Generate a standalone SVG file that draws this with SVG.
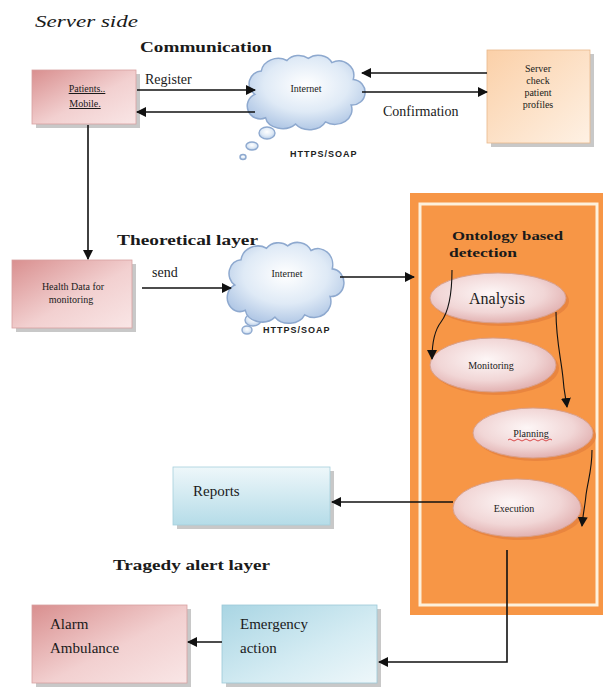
<svg xmlns="http://www.w3.org/2000/svg" width="604" height="688" viewBox="0 0 604 688" font-family="'Liberation Serif', 'DejaVu Serif', serif">
<defs>
<style>
text{font-family:'Liberation Serif','DejaVu Serif',serif}
.serif{fill:#1a1a1a}
.bold{font-weight:bold}
.small{font-size:10px}
.mid{font-size:14px}
.big{font-size:15px}
text.soap{font-family:'Liberation Sans',Arial,sans-serif;font-size:9px;font-weight:bold;letter-spacing:1px;fill:#222}
.conn{stroke:#111;stroke-width:1.6;fill:none}
.thin{stroke:#111;stroke-width:1.1;fill:none}
.shadow{fill:#9a9a9a;opacity:0.55}
.cloud{fill:url(#gCloud);stroke:#8ea9cf;stroke-width:1.4}
.ell{fill:url(#gEll);stroke:#d9a08a;stroke-width:1}
</style>
<linearGradient id="gPink" x1="0" y1="0" x2="1" y2="1">
<stop offset="0" stop-color="#d98f8f"/><stop offset="0.55" stop-color="#f2d0d0"/><stop offset="1" stop-color="#f9e6e6"/>
</linearGradient>
<linearGradient id="gBlue" x1="0" y1="0" x2="1" y2="1">
<stop offset="0" stop-color="#a9d5e3"/><stop offset="0.6" stop-color="#d5ecf3"/><stop offset="1" stop-color="#eef7fa"/>
</linearGradient>
<linearGradient id="gBlueV" x1="0" y1="0" x2="0" y2="1">
<stop offset="0" stop-color="#eef7fa"/><stop offset="1" stop-color="#b5dce8"/>
</linearGradient>
<linearGradient id="gPeach" x1="0" y1="0" x2="1" y2="1">
<stop offset="0" stop-color="#fbd0a8"/><stop offset="1" stop-color="#fef1e4"/>
</linearGradient>
<radialGradient id="gCloud" cx="0.5" cy="0.4" r="0.6">
<stop offset="0" stop-color="#ffffff"/><stop offset="0.6" stop-color="#dfeaf6"/><stop offset="1" stop-color="#b3c9e6"/>
</radialGradient>
<radialGradient id="gEll" cx="0.45" cy="0.4" r="0.6">
<stop offset="0" stop-color="#fdf6f6"/><stop offset="0.65" stop-color="#f1d6d6"/><stop offset="1" stop-color="#e2b2b2"/>
</radialGradient>
<marker id="arrL" viewBox="0 0 10 10" refX="9" refY="5" markerWidth="10" markerHeight="10" markerUnits="userSpaceOnUse" orient="auto">
<path d="M0,0 L10,5 L0,10 Z" fill="#111"/>
</marker>
<path id="cloudShape" d="M12,40 A12,12 0 0 1 18,18 A16,14 0 0 1 42,8 A14,12 0 0 1 62,6 A14,12 0 0 1 84,10 A14,14 0 0 1 104,26 A12,12 0 0 1 102,50 A16,14 0 0 1 78,66 A16,12 0 0 1 50,68 A16,12 0 0 1 22,62 A12,12 0 0 1 12,40 Z"/>
</defs>
<rect width="604" height="688" fill="#ffffff"/>

<g id="titles">
<text class="serif" x="35" y="27" font-size="17" font-style="italic" textLength="103" lengthAdjust="spacingAndGlyphs">Server side</text>
<text class="serif bold" x="140" y="52" font-size="15" textLength="132" lengthAdjust="spacingAndGlyphs">Communication</text>
<text class="serif bold" x="117" y="245" font-size="15" textLength="141" lengthAdjust="spacingAndGlyphs">Theoretical layer</text>
<text class="serif bold" x="113" y="570" font-size="15" textLength="157" lengthAdjust="spacingAndGlyphs">Tragedy alert layer</text>
</g>

<g id="orange-container">
<rect x="410" y="193" width="193" height="422" fill="#f79646"/>
<rect x="420" y="204" width="177" height="401" fill="none" stroke="#fdf0dc" stroke-width="3"/>
<text class="serif bold" x="452" y="240" font-size="13" textLength="111" lengthAdjust="spacingAndGlyphs">Ontology based</text>
<text class="serif bold" x="449" y="257" font-size="13" textLength="68" lengthAdjust="spacingAndGlyphs">detection</text>
</g>

<g id="patients">
<rect class="shadow" x="36" y="74" width="104" height="54"/>
<rect x="32" y="70" width="104" height="54" fill="url(#gPink)" stroke="#d8a0a0" stroke-width="0.8"/>
<text class="serif small" x="87" y="92" text-anchor="middle" text-decoration="underline">Patients..</text>
<text class="serif small" x="85" y="107" text-anchor="middle" text-decoration="underline">Mobile.</text>
</g>

<g id="cloud1">
<ellipse class="cloud" cx="267" cy="133" rx="8" ry="6"/>
<ellipse class="cloud" cx="252" cy="146" rx="6" ry="4"/>
<ellipse class="cloud" cx="243" cy="157" rx="3" ry="2.5"/>
<use href="#cloudShape" class="cloud" transform="translate(242,52) scale(1.07,1.06)"/>
<text class="serif small" x="306" y="92" text-anchor="middle">Internet</text>
<text class="soap" x="290" y="157">HTTPS/SOAP</text>
</g>

<g id="server">
<rect class="shadow" x="491" y="54" width="103" height="93"/>
<rect x="487" y="50" width="103" height="93" fill="url(#gPeach)" stroke="#e8b88c" stroke-width="0.8"/>
<text class="serif small" x="538" y="72" text-anchor="middle">Server</text>
<text class="serif small" x="538" y="84" text-anchor="middle">check</text>
<text class="serif small" x="538" y="96" text-anchor="middle">patient</text>
<text class="serif small" x="538" y="108" text-anchor="middle">profiles</text>
</g>

<g id="healthdata">
<rect class="shadow" x="16" y="264" width="120" height="68"/>
<rect x="12" y="260" width="120" height="68" fill="url(#gPink)" stroke="#d8a0a0" stroke-width="0.8"/>
<text class="serif small" x="73" y="290" text-anchor="middle">Health Data for</text>
<text class="serif small" x="71" y="303" text-anchor="middle">monitoring</text>
</g>

<g id="cloud2">
<ellipse class="cloud" cx="253" cy="320" rx="8" ry="6"/>
<ellipse class="cloud" cx="247" cy="330" rx="5" ry="4"/>
<use href="#cloudShape" class="cloud" transform="translate(222,239) scale(1.06,1.15)"/>
<text class="serif small" x="287" y="277" text-anchor="middle">Internet</text>
<text class="soap" x="263" y="333">HTTPS/SOAP</text>
</g>

<g id="analysis">
<ellipse cx="501" cy="301" rx="68" ry="25" fill="#e07a3a" opacity="0.6"/>
<ellipse class="ell" cx="498" cy="298" rx="68" ry="25"/>
<text class="serif" x="497" y="304" font-size="16" text-anchor="middle">Analysis</text>
</g>
<g id="monitoring">
<ellipse cx="496" cy="368" rx="63" ry="27" fill="#e07a3a" opacity="0.6"/>
<ellipse class="ell" cx="493" cy="365" rx="63" ry="27"/>
<text class="serif small" x="491" y="369" text-anchor="middle">Monitoring</text>
</g>
<g id="planning">
<ellipse cx="536" cy="436" rx="60" ry="25" fill="#e07a3a" opacity="0.6"/>
<ellipse class="ell" cx="533" cy="433" rx="60" ry="25"/>
<text class="serif small" x="531" y="437" text-anchor="middle">Planning</text>
<path d="M508,440 q2,-2 4,0 t4,0 t4,0 t4,0 t4,0 t4,0 t4,0 t4,0 t4,0 t4,0 t4,0" fill="none" stroke="#d02020" stroke-width="0.8"/>
</g>
<g id="execution">
<ellipse cx="520" cy="511" rx="64" ry="29" fill="#e07a3a" opacity="0.6"/>
<ellipse class="ell" cx="517" cy="508" rx="64" ry="29"/>
<text class="serif small" x="514" y="512" text-anchor="middle">Execution</text>
</g>

<g id="reports">
<rect class="shadow" x="177" y="471" width="157" height="58"/>
<rect x="173" y="467" width="157" height="58" fill="url(#gBlueV)" stroke="#a6cfdc" stroke-width="0.8"/>
<text class="serif big" x="193" y="496">Reports</text>
</g>

<g id="alarm">
<rect class="shadow" x="36" y="609" width="155" height="78"/>
<rect x="32" y="605" width="155" height="78" fill="url(#gPink)" stroke="#d8a0a0" stroke-width="0.8"/>
<text class="serif big" x="50" y="629">Alarm</text>
<text class="serif big" x="50" y="653">Ambulance</text>
</g>

<g id="emergency">
<rect class="shadow" x="226" y="609" width="155" height="78"/>
<rect x="222" y="605" width="155" height="78" fill="url(#gBlue)" stroke="#9cc9d8" stroke-width="0.8"/>
<text class="serif big" x="240" y="629">Emergency</text>
<text class="serif big" x="240" y="653">action</text>
</g>

<g id="connectors">
<text class="serif mid" x="145" y="84">Register</text>
<line class="conn" x1="137" y1="90" x2="255" y2="90" marker-end="url(#arrL)"/>
<line class="conn" x1="255" y1="112" x2="137" y2="112" marker-end="url(#arrL)"/>
<line class="conn" x1="487" y1="73" x2="362" y2="73" marker-end="url(#arrL)"/>
<line class="conn" x1="362" y1="92" x2="487" y2="92" marker-end="url(#arrL)"/>
<text class="serif mid" x="383" y="116">Confirmation</text>
<line class="conn" x1="88" y1="125" x2="88" y2="259" marker-end="url(#arrL)"/>
<text class="serif mid" x="152" y="277">send</text>
<line class="conn" x1="142" y1="288" x2="231" y2="288" marker-end="url(#arrL)"/>
<line class="conn" x1="340" y1="277" x2="414" y2="277" marker-end="url(#arrL)"/>
<path class="thin" d="M452,270 C452,300 447,314 441,322 C434,331 432,345 432,359" marker-end="url(#arrL)"/>
<path class="thin" d="M556,312 C556,340 561,358 563,378 C564,393 566,399 567,407" marker-end="url(#arrL)"/>
<path class="thin" d="M592,450 C592,470 588,480 586,495 C585,506 583,514 582,526" marker-end="url(#arrL)"/>
<line class="conn" x1="453" y1="502" x2="332" y2="502" marker-end="url(#arrL)"/>
<polyline class="conn" points="507,550 507,662 379,662" marker-end="url(#arrL)"/>
<line class="conn" x1="222" y1="642" x2="188" y2="642" marker-end="url(#arrL)"/>
</g>
</svg>
